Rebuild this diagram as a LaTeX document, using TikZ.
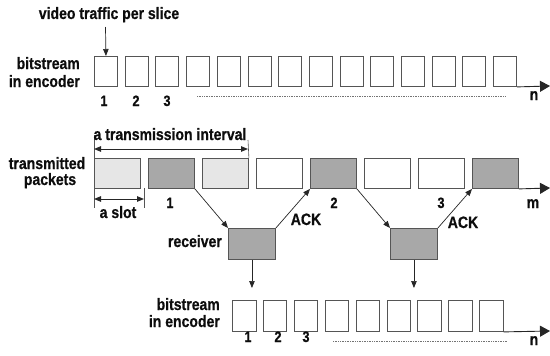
\documentclass[tikz,border=0pt]{standalone}
\usepackage{fontspec}
\newfontfamily\lblfont{Liberation Sans Bold}[FakeStretch=0.85,FakeBold=0.6]
\usetikzlibrary{arrows.meta}
\definecolor{edge}{HTML}{555555}
\definecolor{pale}{HTML}{E6E6E6}
\definecolor{shade}{HTML}{A8A8A8}
\begin{document}
\begin{tikzpicture}[x=1pt,y=-1pt,
  lbl/.style={font=\lblfont\fontsize{16.5}{19}\selectfont, inner sep=0pt, text=black!95, anchor=base},
  num/.style={font=\lblfont\fontsize{15}{18}\selectfont, inner sep=0pt, text=black!95, anchor=base},
  cell/.style={draw=edge, line width=0.9pt, inner sep=0pt, anchor=north west,
    minimum width=23pt, minimum height=30pt},
  pkt/.style={cell, minimum width=46pt, minimum height=30pt},
  rcv/.style={cell, fill=shade, minimum width=47pt, minimum height=31pt},
  axis/.style={draw=black!85, line width=0.9pt, -{Triangle[length=10pt,width=11pt]}},
  arr/.style={draw=black!85, line width=0.7pt, -{Triangle[length=7pt,width=5.5pt]}},
  dim/.style={draw=black!85, line width=0.9pt, {Triangle[length=7pt,width=5.5pt]}-{Triangle[length=7pt,width=5.5pt]}},
  tick/.style={draw=edge, line width=0.6pt},
  trail/.style={draw=black!55, line width=0.7pt, densely dotted}]
\useasboundingbox (0,0) rectangle (550,356);

% encoder bitstream (top)
\foreach \i in {1,...,14}
  \node[cell] (t\i) at ({94+(\i-1)*30.7},56) {};
\coordinate (tend) at (550,86);
\draw[axis] (t14.south east) -- (tend);
\node[lbl] (vt) at (109,19) {video traffic per slice};
\coordinate (vtarr) at (105.5,27);
\draw[arr] (vtarr) -- (t1.north);
\node[lbl, anchor=base east] (enc1a) at (80,69) {bitstream};
\node[lbl, anchor=base east] (enc1b) at (80,87) {in encoder};
\node[num] (tn1) at (104,106) {1};
\node[num] (tn2) at (136,106) {2};
\node[num] (tn3) at (167,106) {3};
\node[lbl] (tnn) at (534,100) {n};
\coordinate (tda) at (197,96);
\coordinate (tdb) at (505,96);
\draw[trail] (tda) -- (tdb);

% transmitted packets
\foreach \i/\f in {1/pale,2/shade,3/pale,4/white,5/shade,6/white,7/white,8/shade}
  \node[pkt, fill=\f] (p\i) at ({94+(\i-1)*54},158) {};
\coordinate (pend) at (550,188);
\draw[axis] (p8.south east) -- (pend);
\node[lbl, anchor=base] (tx1) at (47,169) {transmitted};
\node[lbl, anchor=base] (tx2) at (50,185) {packets};

% transmission interval
\coordinate (ia) at (94,135);
\coordinate (ib) at (248,140);
\draw[tick] (p1.north west) -- (ia);
\draw[tick] (p3.north east) -- (ib);
\coordinate (ial) at (94,149);
\coordinate (iar) at (248,149);
\draw[dim] (ial) -- (iar);
\node[lbl] (ivl) at (170,140) {a transmission interval};

% slot
\coordinate (sa) at (94,208);
\coordinate (sbt) at (144,188);
\coordinate (sb) at (144,208);
\draw[tick] (p1.south west) -- (sa);
\draw[tick] (sbt) -- (sb);
\coordinate (sal) at (94,199);
\coordinate (sar) at (144,199);
\draw[dim] (sal) -- (sar);
\node[lbl] (slot) at (118,218) {a slot};

\node[num] (pn1) at (170,208) {1};
\node[num] (pn2) at (334,208) {2};
\node[num] (pn3) at (441,208) {3};
\node[lbl] (pnm) at (533,208) {m};

% receiver
\node[rcv] (r1) at (228,228) {};
\node[rcv] (r2) at (390,228) {};
\node[lbl, anchor=base east] (rl) at (222,247) {receiver};
\draw[arr] (p2.south east) -- (r1.north west);
\draw[arr] (r1.north east) -- (p5.south west);
\draw[arr] (p5.south east) -- (r2.north west);
\draw[arr] (r2.north east) -- (p8.south west);
\node[lbl] (ack1) at (306,225) {ACK};
\node[lbl] (ack2) at (463,228) {ACK};
\coordinate (r1d) at (r1.south |- 0,288);
\coordinate (r2d) at (r2.south |- 0,288);
\draw[arr] (r1.south) -- (r1d);
\draw[arr] (r2.south) -- (r2d);

% decoded bitstream (bottom)
\foreach \i in {1,...,9}
  \node[cell, minimum width=23.5pt, minimum height=31pt] (b\i) at ({232+(\i-1)*30.9},300) {};
\coordinate (bend) at (550,331);
\draw[axis] (b9.south east) -- (bend);
\node[lbl, anchor=base east] (enc2a) at (220,310) {bitstream};
\node[lbl, anchor=base east] (enc2b) at (220,327) {in encoder};
\node[num] (bn1) at (248,342) {1};
\node[num] (bn2) at (278,342) {2};
\node[num] (bn3) at (306,342) {3};
\node[lbl] (bnn) at (534,345) {n};
\coordinate (bda) at (333,341);
\coordinate (bdb) at (507,341);
\draw[trail] (bda) -- (bdb);
\end{tikzpicture}
\end{document}
